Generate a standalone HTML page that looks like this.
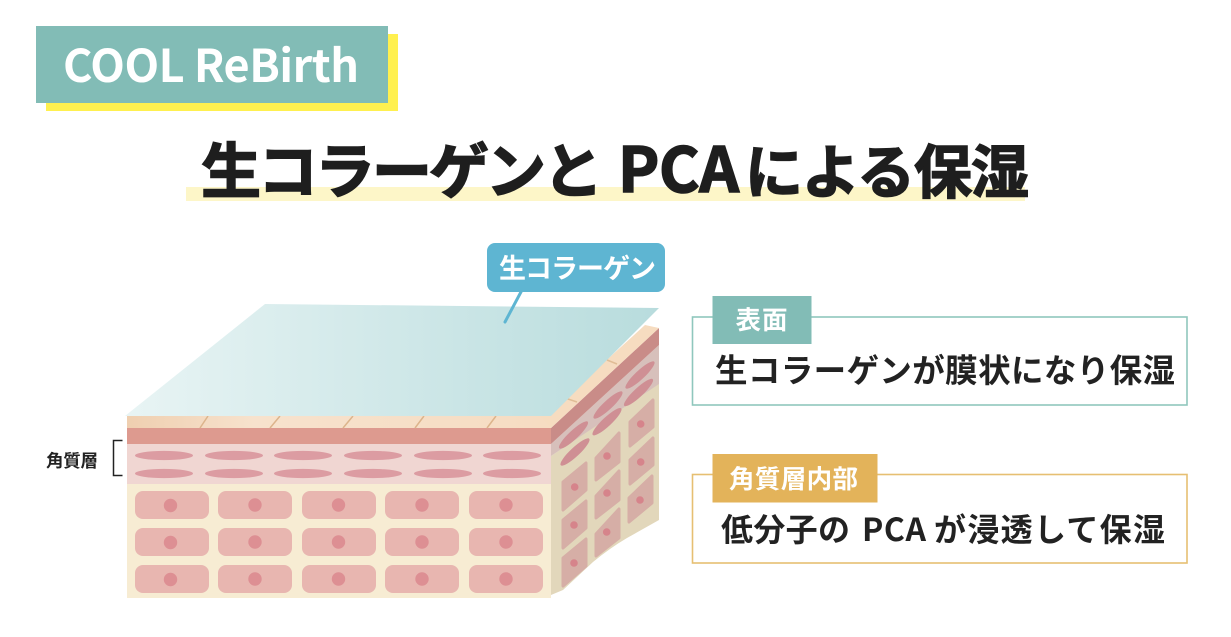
<!DOCTYPE html>
<html lang="ja"><head><meta charset="utf-8"><style>
html,body{margin:0;padding:0;background:#fff;width:1231px;height:637px;overflow:hidden}
svg{display:block}
text{font-family:"Liberation Sans","Noto Sans CJK JP",sans-serif}
.n{font-family:"Noto Sans CJK JP","Liberation Sans",sans-serif;font-weight:700}
</style></head><body>
<svg width="1231" height="637" viewBox="0 0 1231 637" xmlns="http://www.w3.org/2000/svg">
<defs>
<linearGradient id="film" x1="127" x2="660" y1="0" y2="0" gradientUnits="userSpaceOnUse"><stop offset="0" stop-color="#e8f4f4"/><stop offset="1" stop-color="#b8dcdd"/></linearGradient>
<linearGradient id="tile" x1="0" x2="1" y1="0" y2="0"><stop offset="0" stop-color="#efcfb0"/><stop offset=".3" stop-color="#f7e2cd"/><stop offset="1" stop-color="#f6dcc2"/></linearGradient>
</defs>
<rect x="46" y="34" width="352" height="77" fill="#fff04f"/>
<rect x="36" y="26" width="352" height="77" fill="#82bcb6"/>
<text class="n" x="63" y="82" font-size="45" fill="#fff" textLength="296">COOL ReBirth</text>
<rect x="186" y="187" width="839" height="14" fill="#fdf6c8"/>
<g class="t" fill="#1e1e1e" stroke="#1e1e1e" stroke-width="1.600">
<text class="n" x="201" y="193" font-size="60" textLength="402">生コラーゲンと</text>
<text class="n" x="618" y="192" font-size="62" textLength="121">PCA</text>
<text class="n" x="745" y="193" font-size="58" textLength="284">による保湿</text>
</g>

<!-- block front -->
<rect x="127" y="484" width="424" height="114" fill="#f7ecd3"/>
<rect x="127" y="444" width="424" height="40" fill="#f0d6d2"/>
<rect x="127" y="428" width="424" height="16" fill="#dd9a8f"/>
<rect x="127" y="416" width="424" height="12" fill="url(#tile)"/>
<g stroke="#dcb48c" stroke-width="1.5"><path d="M200 428l8-12M270 428l10-12M343 428l10-12M415 428l9-12M487 428l9-12"/></g>
<g fill="#dc9ca2">
<ellipse cx="164" cy="455.5" rx="29" ry="4.6"/><ellipse cx="234" cy="455.5" rx="29" ry="4.6"/><ellipse cx="303" cy="455.5" rx="29" ry="4.6"/><ellipse cx="373" cy="455.5" rx="29" ry="4.6"/><ellipse cx="443" cy="455.5" rx="29" ry="4.6"/><ellipse cx="512" cy="455.5" rx="29" ry="4.6"/>
<ellipse cx="164" cy="473.5" rx="29" ry="4.6"/><ellipse cx="234" cy="473.5" rx="29" ry="4.6"/><ellipse cx="303" cy="473.5" rx="29" ry="4.6"/><ellipse cx="373" cy="473.5" rx="29" ry="4.6"/><ellipse cx="443" cy="473.5" rx="29" ry="4.6"/><ellipse cx="512" cy="473.5" rx="29" ry="4.6"/>
</g>
<g fill="#e8b6b0">
<rect x="135" y="491" width="74" height="28" rx="8"/><rect x="218" y="491" width="74" height="28" rx="8"/><rect x="302" y="491" width="74" height="28" rx="8"/><rect x="385" y="491" width="74" height="28" rx="8"/><rect x="469" y="491" width="74" height="28" rx="8"/>
<rect x="135" y="528" width="74" height="28" rx="8"/><rect x="218" y="528" width="74" height="28" rx="8"/><rect x="302" y="528" width="74" height="28" rx="8"/><rect x="385" y="528" width="74" height="28" rx="8"/><rect x="469" y="528" width="74" height="28" rx="8"/>
<rect x="135" y="565" width="74" height="28" rx="8"/><rect x="218" y="565" width="74" height="28" rx="8"/><rect x="302" y="565" width="74" height="28" rx="8"/><rect x="385" y="565" width="74" height="28" rx="8"/><rect x="469" y="565" width="74" height="28" rx="8"/>
</g>
<g fill="#dd8f93">
<circle cx="170.500" cy="505.500" r="6.700"/><circle cx="255" cy="505" r="6.700"/><circle cx="338.500" cy="505" r="6.700"/><circle cx="422" cy="505" r="6.700"/><circle cx="506" cy="505" r="6.700"/>
<circle cx="170.500" cy="542.500" r="6.700"/><circle cx="255" cy="542" r="6.700"/><circle cx="338.500" cy="542" r="6.700"/><circle cx="422" cy="542" r="6.700"/><circle cx="506" cy="542" r="6.700"/>
<circle cx="170.500" cy="579.500" r="6.700"/><circle cx="255" cy="579" r="6.700"/><circle cx="338.500" cy="579" r="6.700"/><circle cx="422" cy="579" r="6.700"/><circle cx="506" cy="579" r="6.700"/>
</g>

<!-- block side -->
<path d="M551 456L659 383V520L627 538Q610 548 593 562L563 590L551 595V598H545L551 598Z" fill="#e2d7bb"/>
<path d="M551 444L659 345V384L551 456Z" fill="#d7c0bb"/>
<path d="M551 428L659 328V345L551 444Z" fill="#c98c88"/>
<path d="M545 416L645 325L659 328L551 428L540 416Z" fill="#f6dcc0"/>
<path d="M565 398l12 4M607 360l10 4" stroke="#e0bd96" stroke-width="1.5"/>
<g fill="#cf8f94">
<ellipse cx="573.500" cy="435" rx="19.500" ry="4.500" transform="rotate(-43 573.500 435)"/>
<ellipse cx="575" cy="452" rx="19.500" ry="4.500" transform="rotate(-43 575 452)"/>
<ellipse cx="608" cy="405" rx="19.500" ry="4.500" transform="rotate(-43 608 405)"/>
<ellipse cx="607" cy="421.700" rx="19.500" ry="4.500" transform="rotate(-43 607 421.700)"/>
<ellipse cx="640" cy="375" rx="19.500" ry="4.500" transform="rotate(-43 640 375)"/>
<ellipse cx="638.500" cy="392.500" rx="19.500" ry="4.500" transform="rotate(-43 638.500 392.500)"/>
</g>
<g fill="#d6aea6" stroke="#d6aea6" stroke-width="3" stroke-linejoin="round">
<path d="M563 482L586 463V490L563 510Z"/><path d="M563 520L586 501V528L563 548Z"/><path d="M563 558L586 539V566L563 586Z"/>
<path d="M596 458L619 433V462L596 480Z"/><path d="M596 496L619 471V500L596 518Z"/><path d="M596 534L619 509V538L596 556Z"/>
<path d="M630 422L653 400V427L630 446Z"/><path d="M630 460L653 438V465L630 484Z"/><path d="M629 498L652 476V503L629 522Z"/>
</g>
<g fill="#d6848b">
<circle cx="574.700" cy="487" r="3.800"/><circle cx="574" cy="525" r="3.800"/><circle cx="574" cy="563" r="3.800"/>
<circle cx="607" cy="456" r="3.800"/><circle cx="607" cy="493" r="3.800"/><circle cx="606.700" cy="532" r="3.800"/>
<circle cx="640.700" cy="424" r="3.800"/><circle cx="640.700" cy="462" r="3.800"/><circle cx="640" cy="500" r="3.800"/>
</g>

<!-- film -->
<path d="M125 416L265 304L659 308L551 416Z" fill="url(#film)"/>

<!-- callout -->
<path d="M522 290L505 322" stroke="#5eb5d2" stroke-width="3" stroke-linecap="round"/>
<rect x="487" y="243" width="178" height="49" rx="8" fill="#5eb5d2"/>
<text class="n" x="499" y="278" font-size="27" fill="#fff" textLength="157">生コラーゲン</text>

<!-- bracket -->
<path d="M122.500 440.500H113.500V475.500H122.500" fill="none" stroke="#222" stroke-width="1.500"/>
<text class="n" x="46" y="467" font-size="17.500" fill="#222" textLength="52">角質層</text>

<!-- right boxes -->
<rect x="692.500" y="317" width="494.500" height="88" fill="#fff" stroke="#8fc7bd" stroke-width="1.600"/>
<rect x="712.500" y="296" width="99" height="48" fill="#82bcb6"/>
<text class="n" x="735.500" y="329" font-size="25.500" fill="#fff" textLength="52">表面</text>
<text class="n" x="715" y="382" font-size="32.500" fill="#222" textLength="460">生コラーゲンが膜状になり保湿</text>

<rect x="692.500" y="474.500" width="494.500" height="88.500" fill="#fff" stroke="#e6bf72" stroke-width="1.600"/>
<rect x="712.500" y="454" width="165" height="48.500" fill="#e3b35a"/>
<text class="n" x="729" y="488" font-size="25.500" fill="#fff" textLength="129">角質層内部</text>
<g fill="#222">
<text class="n" x="721" y="541" font-size="32" textLength="129">低分子の</text>
<text class="n" x="862" y="541" font-size="32" textLength="64">PCA</text>
<text class="n" x="934" y="541" font-size="32" textLength="231">が浸透して保湿</text>
</g>
</svg>
</body></html>
